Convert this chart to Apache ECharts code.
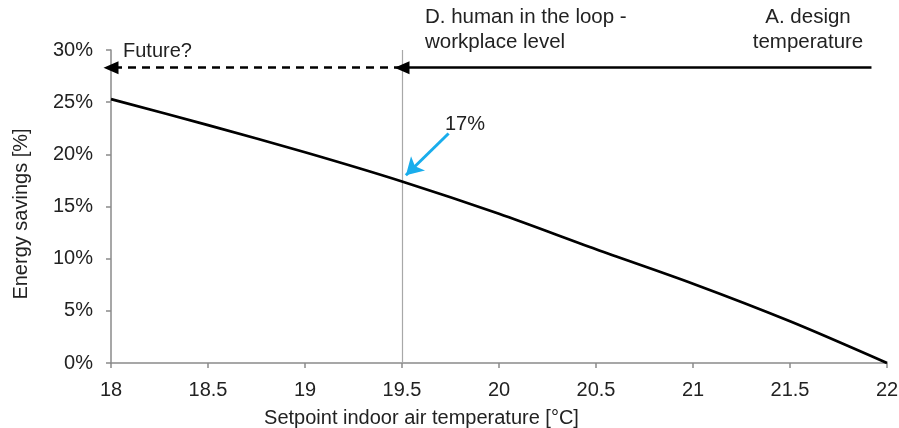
<!DOCTYPE html>
<html>
<head>
<meta charset="utf-8">
<script src="https://cdn.jsdelivr.net/npm/echarts@6/dist/echarts.min.js"></script>
<style>
  html, body { margin: 0; padding: 0; background: #fff; }
  #chart { width: 899px; height: 428px; }
</style>
</head>
<body>
<div id="chart"></div>
<script>
// 数据
const temps = [18, 18.5, 19, 19.5, 20, 20.5, 21, 21.5, 22]; //设定温度
const savings = [25.3, 22.8, 20.2, 17.4, 14.3, 10.9, 7.6, 4.0, 0]; //节能百分比
const humanLoopTemp = 19.5; //D点温度
const arrowLevel = 28.3; //顶部箭头高度(%)
const designTemp = 21.92; //A. design temperature 箭头起点
const calloutFrom = [19.74, 22.0]; //蓝色箭头起点
const calloutTo = [19.52, 18.0]; //蓝色箭头终点

(function () {
    const my_echart = echarts.init(document.getElementById("chart"));
    const font = "'Liberation Sans', Arial, sans-serif";
    const textColor = "#222";
    const axisColor = "#8a8a8a";
    const fs = 20; //字号
    let option = {
        animation: false,
        grid: {
            left: 111,
            right: 12,
            top: 50,
            bottom: 65,
            outerBoundsMode: 'none' //不自动收缩坐标系
        },
        xAxis: {
            type: 'value',
            min: 18,
            max: 22,
            interval: 0.5,
            name: 'Setpoint indoor air temperature [°C]',
            nameLocation: 'middle',
            nameGap: 45,
            nameTextStyle: {
                color: textColor,
                fontSize: fs,
                fontFamily: font,
                padding: [0, 155, 0, 0]
            },
            axisLine: { lineStyle: { color: axisColor, width: 1.5 } },
            axisTick: { show: true, length: 5, lineStyle: { color: axisColor, width: 1.5 } },
            axisLabel: { color: textColor, fontSize: fs, fontFamily: font, margin: 17 },
            splitLine: { show: false }
        },
        yAxis: {
            type: 'value',
            min: 0,
            max: 30,
            interval: 5,
            name: 'Energy savings [%]',
            nameLocation: 'middle',
            nameGap: 80,
            nameTextStyle: {
                color: textColor,
                fontSize: fs,
                fontFamily: font,
                padding: [0, 15, 0, 0]
            },
            axisLine: { show: true, lineStyle: { color: axisColor, width: 1.5 } },
            axisTick: { show: true, length: 5, lineStyle: { color: axisColor, width: 1.5 } },
            axisLabel: { color: textColor, fontSize: fs, fontFamily: font, margin: 18, formatter: '{value}%' },
            splitLine: { show: false }
        },
        series: [
            {
                type: 'line',
                data: temps.map((t, i) => [t, savings[i]]),
                smooth: 0.3,
                symbol: 'none',
                lineStyle: { color: '#000', width: 2.8 },
                z: 5
            },
            {
                type: 'line',
                data: [],
                markLine: {
                    silent: true,
                    animation: false,
                    label: { show: false },
                    emphasis: { disabled: true },
                    data: [
                        //竖线 19.5
                        [
                            { coord: [humanLoopTemp, 0], symbol: 'none', lineStyle: { color: '#a8a8a8', width: 1.2, type: 'solid' } },
                            { coord: [humanLoopTemp, 30], symbol: 'none' }
                        ],
                        //虚线箭头 Future?
                        [
                            { coord: [humanLoopTemp, arrowLevel], symbol: 'none', lineStyle: { color: '#000', width: 2.5, type: [8, 6] } },
                            { coord: [18, arrowLevel], symbol: 'triangle', symbolSize: [13, 15], symbolRotate: 90 }
                        ],
                        //实线箭头 A -> D
                        [
                            { coord: [designTemp, arrowLevel], symbol: 'none', lineStyle: { color: '#000', width: 2.5, type: 'solid' } },
                            { coord: [humanLoopTemp, arrowLevel], symbol: 'triangle', symbolSize: [13, 15], symbolRotate: 90 }
                        ],
                        //蓝色箭头 17%
                        [
                            { coord: calloutFrom, symbol: 'none', lineStyle: { color: '#19adec', width: 3, type: 'solid' } },
                            { coord: calloutTo, symbol: 'arrow', symbolSize: [15, 17] }
                        ]
                    ]
                }
            }
        ],
        graphic: [
            { type: 'text', x: 425, y: 5, style: { text: 'D. human in the loop -\nworkplace level', font: '20.5px ' + font, fill: textColor, lineHeight: 25 } },
            { type: 'text', x: 808, y: 5, style: { text: 'A. design\ntemperature', font: '20.5px ' + font, fill: textColor, align: 'center', lineHeight: 25 } },
            { type: 'text', x: 123, y: 51, style: { text: 'Future?', font: fs + 'px ' + font, fill: textColor, verticalAlign: 'middle' } },
            { type: 'text', x: 445, y: 124, style: { text: '17%', font: fs + 'px ' + font, fill: textColor, verticalAlign: 'middle' } }
        ]
    };
    my_echart.setOption(option);
    window.addEventListener("resize", function () {
        my_echart.resize();
    });
})();
</script>
</body>
</html>
